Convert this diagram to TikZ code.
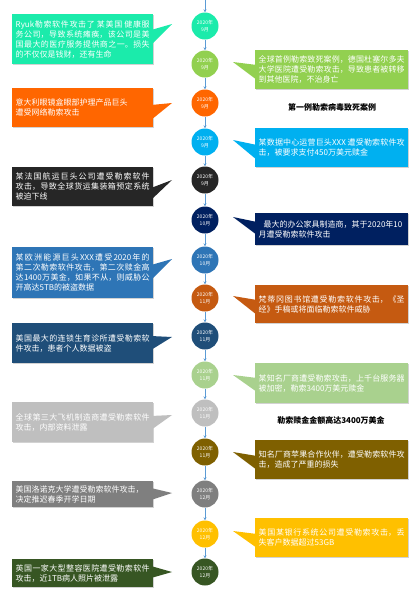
\documentclass[tikz,border=0pt]{standalone}
\usepackage{fontspec}
\setmainfont{Noto Sans CJK SC}
\XeTeXlinebreaklocale "zh"
\XeTeXlinebreakskip=0pt plus 2pt
\usetikzlibrary{arrows.meta,shadows}
\definecolor{k1}{HTML}{1BEBAB}
\definecolor{k2}{HTML}{92D050}
\definecolor{k3}{HTML}{FF6600}
\definecolor{k4}{HTML}{00B0F0}
\definecolor{k5}{HTML}{262626}
\definecolor{k6}{HTML}{002060}
\definecolor{k7}{HTML}{2E75B6}
\definecolor{k8}{HTML}{C55A11}
\definecolor{k9}{HTML}{1F4E79}
\definecolor{k10}{HTML}{A9D18E}
\definecolor{k11}{HTML}{BFBFBF}
\definecolor{k12}{HTML}{7F6000}
\definecolor{k13}{HTML}{7F7F7F}
\definecolor{k14}{HTML}{FFC000}
\definecolor{k15}{HTML}{375623}
\definecolor{arrowblue}{HTML}{5B9BD5}
\tikzset{
  cbox/.style={rectangle, inner xsep=3.5pt, inner ysep=2pt, text=white, align=justify,
    font=\fontsize{8}{10}\selectfont, anchor=north west,
    drop shadow={shadow xshift=0.8pt, shadow yshift=-0.8pt, opacity=0.35}},
  lbox/.style={cbox, text width=134pt, minimum width=141pt},
  rbox/.style={cbox, text width=146pt, minimum width=153pt},
  circ/.style={circle, minimum size=27pt, inner sep=0pt, text=white, align=center,
    font=\fontsize{5}{7}\selectfont},
  conn/.style={draw=arrowblue, line width=0.6pt, -{Stealth[length=3pt,width=3pt]}},
  lbl/.style={font=\fontsize{8}{10}\selectfont\bfseries, text=black}
}
\newcommand\nl{\linebreak}
% name, top, height, tip y, base y1, base y2, colour, text
\newcommand\lcall[8]{%
  \node[lbox, fill=#7, minimum height=#3pt] (#1) at (12,#2) {#8};
  \coordinate (#1tip) at (172,#4);
  \fill[#7] (151,#5) -- (#1tip) -- (151,#6) -- cycle;
}
\newcommand\rcall[8]{%
  \node[rbox, fill=#7, minimum height=#3pt] (#1) at (255,#2) {#8};
  \coordinate (#1tip) at (233,#4);
  \fill[#7] (257,#5) -- (#1tip) -- (257,#6) -- cycle;
}
\begin{document}
\begin{tikzpicture}[x=1pt,y=-1pt]
\fill[white] (0,0) rectangle (417,598);
\useasboundingbox (0,0) rectangle (417,598);

% circles
\node[circ, fill=k1]  (c1)  at (205,26)  {2020年\\9月};
\node[circ, fill=k2]  (c2)  at (205,64)  {2020年\\9月};
\node[circ, fill=k3]  (c3)  at (205,103) {2020年\\9月};
\node[circ, fill=k4]  (c4)  at (205,142) {2020年\\9月};
\node[circ, fill=k5]  (c5)  at (205,180) {2020年\\9月};
\node[circ, fill=k6]  (c6)  at (205,220) {2020年\\10月};
\node[circ, fill=k7]  (c7)  at (205,260) {2020年\\10月};
\node[circ, fill=k8]  (c8)  at (205,298) {2020年\\11月};
\node[circ, fill=k9]  (c9)  at (205,336) {2020年\\11月};
\node[circ, fill=k10] (c10) at (205,375) {2020年\\11月};
\node[circ, fill=k11] (c11) at (205,413) {2020年\\11月};
\node[circ, fill=k12] (c12) at (205,452) {2020年\\11月};
\node[circ, fill=k13] (c13) at (205,494) {2020年\\12月};
\node[circ, fill=k14] (c14) at (205,534) {2020年\\12月};
\node[circ, fill=k15] (c15) at (205,572) {2020年\\12月};

\coordinate (top) at (205,0);
\draw[conn] (top) -- (c1);
\foreach \a/\b in {1/2,2/3,3/4,4/5,5/6,6/7,7/8,8/9,9/10,10/11,11/12,12/13,13/14,14/15}
  \draw[conn] (c\a) -- (c\b);

% callouts
\lcall{b1}{14}{50}{24}{30}{45}{k1}{Ryuk勒索软件攻击了 某美国 健康服\nl 务公司，导致系统瘫痪，该公司是美\nl 国最大的医疗服务提供商之一。损失\nl 的不仅仅是钱财，还有生命}
\rcall{b2}{50}{39}{62}{65}{80}{k2}{全球首例勒索致死案例，德国杜塞尔多夫\nl 大学医院遭受勒索攻击，导致患者被转移\nl 到其他医院，不治身亡}
\lcall{b3}{88}{39}{103}{105}{120}{k3}{意大利眼镜盒眼部护理产品巨头\\遭受网络勒索攻击}
\rcall{b4}{128}{39}{140}{145}{160}{k4}{某数据中心运营巨头XXX 遭受勒索软件攻\nl 击，被要求支付450万美元赎金}
\lcall{b5}{167}{39}{180}{188}{200}{k5}{某法国航运巨头公司遭受勒索软件\nl 攻击，导致全球货运集装箱预定系统\nl 被迫下线}
\rcall{b6}{213}{32}{217}{222}{235}{k6}{\hspace*{5pt}\mbox{最大的办公家具制造商，其于2020年10}\\月遭受勒索软件攻击}
\lcall{b7}{247}{51}{259}{265}{280}{k7}{某欧洲能源巨头XXX遭受2020年的\nl 第二次勒索软件攻击，第二次赎金高\nl 达1400万美金，如果不从，则威胁公\nl 开高达5TB的被盗数据}
\rcall{b8}{285}{38}{296}{300}{315}{k8}{梵蒂冈图书馆遭受勒索软件攻击，《圣\nl 经》手稿或将面临勒索软件威胁}
\lcall{b9}{323}{40}{337}{336}{350}{k9}{美国最大的连锁生育诊所遭受勒索软\nl 件攻击，患者个人数据被盗}
\rcall{b10}{363}{40}{375}{378}{392}{k10}{某知名厂商遭受勒索攻击，上千台服务器\nl 被加密，勒索3400万美元赎金}
\lcall{b11}{402}{40}{415}{416}{430}{k11}{全球第三大飞机制造商遭受勒索软件\nl 攻击，内部资料泄露}
\rcall{b12}{440}{39}{452}{456}{470}{k12}{知名厂商苹果合作伙伴，遭受勒索软件攻\nl 击，造成了严重的损失}
\lcall{b13}{481}{26}{493}{488}{500}{k13}{美国洛诺克大学遭受勒索软件攻击，\\决定推迟春季开学日期}
\rcall{b14}{518}{39}{531}{534}{548}{k14}{美国某银行系统公司遭受勒索攻击，丢\nl 失客户数据超过53GB}
\lcall{b15}{559}{28}{572}{566}{578}{k15}{英国一家大型整容医院遭受勒索软件\nl 攻击，近1TB病人照片被泄露}

% labels
\node[lbl] (l1) at (332,107) {第一例勒索病毒致死案例};
\node[lbl] (l2) at (331,420) {勒索赎金金额高达3400万美金};
\end{tikzpicture}
\end{document}
